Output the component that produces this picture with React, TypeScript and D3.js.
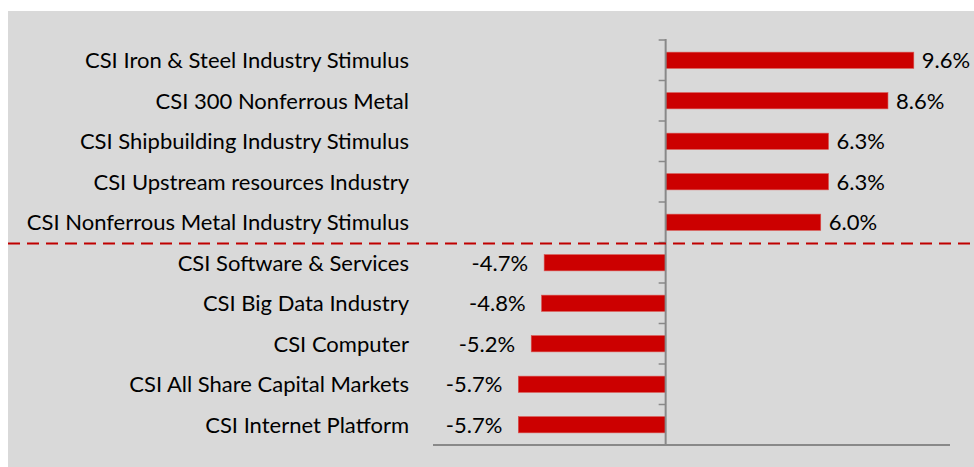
import { useMemo } from "react";
import * as d3 from "d3";

const W = 974;
const H = 467;

const categories = [
  "CSI Iron & Steel Industry Stimulus",
  "CSI 300 Nonferrous Metal",
  "CSI Shipbuilding Industry Stimulus",
  "CSI Upstream resources Industry",
  "CSI Nonferrous Metal Industry Stimulus",
  "CSI Software & Services",
  "CSI Big Data Industry",
  "CSI Computer",
  "CSI All Share Capital Markets",
  "CSI Internet Platform",
];
const values = [9.6, 8.6, 6.3, 6.3, 6.0, -4.7, -4.8, -5.2, -5.7, -5.7];
const valueLabels = ["9.6%", "8.6%", "6.3%", "6.3%", "6.0%", "-4.7%", "-4.8%", "-5.2%", "-5.7%", "-5.7%"];

const FONT = "Lato, 'Open Sans', sans-serif";

export default function App() {
  const x = useMemo(() => d3.scaleLinear().domain([-9, 11]).range([433, 950]), []);
  const y = useMemo(
    () => d3.scaleBand<number>().domain(d3.range(categories.length)).range([40, 445]).paddingInner(0.6).paddingOuter(0.3),
    []
  );
  const step = y.step();
  const x0 = x(0);
  const ticks = d3.range(categories.length + 1).map((i) => 40 + i * step);
  const splitY = 40 + 5 * step + 1;

  return (
    <svg width={W} height={H} style={{ position: "absolute", left: 0, top: 0 }}>
      <rect x={8} y={11} width={W - 8} height={H - 11} fill="#d9d9d9" />
      {/* bars */}
      {values.map((v, i) => (
        <rect
          key={i}
          x={Math.min(x(v), x0)}
          y={y(i)!}
          width={Math.abs(x(v) - x0)}
          height={y.bandwidth()}
          fill="#cc0000"
          stroke="#d9534f"
          strokeWidth={0.6}
        />
      ))}
      {/* axes */}
      <line x1={x(-9)} x2={x(11)} y1={445} y2={445} stroke="#898989" strokeWidth={2} />
      <line x1={x0} x2={x0} y1={39} y2={446} stroke="#898989" strokeWidth={2} />
      {ticks.map((t, i) => (
        <line key={i} x1={x0 - 7} x2={x0} y1={t} y2={t} stroke="#898989" strokeWidth={1.5} />
      ))}
      {/* split line */}
      <line x1={8} x2={W} y1={splitY} y2={splitY} stroke="#c00000" strokeWidth={2} strokeDasharray="12 7" />
      {/* category labels */}
      {categories.map((c, i) => (
        <text
          key={c}
          x={409}
          y={y(i)! + y.bandwidth() / 2}
          dy="0.36em"
          textAnchor="end"
          fontFamily={FONT}
          fontSize={22}
          fill="#000"
        >
          {c}
        </text>
      ))}
      {/* value labels */}
      {values.map((v, i) => (
        <text
          key={i}
          x={v >= 0 ? x(v) + 8 : x(v) - 16}
          y={y(i)! + y.bandwidth() / 2}
          dy="0.36em"
          textAnchor={v >= 0 ? "start" : "end"}
          fontFamily={FONT}
          fontSize={22}
          fill="#000"
        >
          {valueLabels[i]}
        </text>
      ))}
    </svg>
  );
}
